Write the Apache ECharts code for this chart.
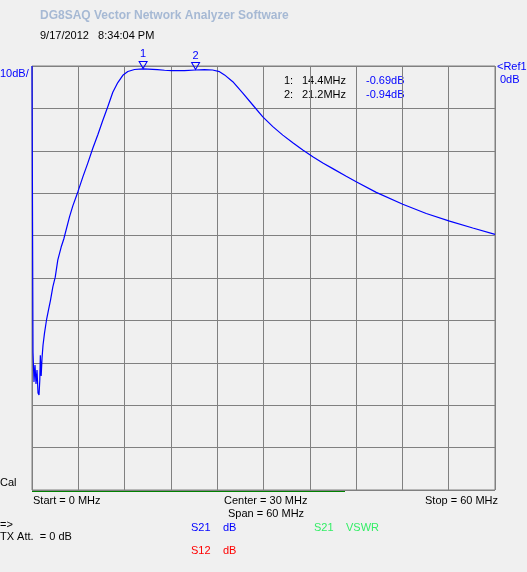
<!DOCTYPE html>
<html><head><meta charset="utf-8">
<script src="https://cdn.jsdelivr.net/npm/echarts@6/dist/echarts.min.js"></script>
<style>html,body{margin:0;padding:0;background:#f0f0f0;}#c{width:527px;height:572px;}</style>
</head><body><div id="c"></div>
<script>
// Frequency (MHz) of trace samples
var freqMHz = [0, 0.13, 0.26, 0.39, 0.52, 0.65, 0.78, 0.91, 1.01, 1.08, 1.19, 1.30, 1.43, 1.62, 1.88, 2.14, 2.40, 2.70, 3.01, 3.34, 3.78, 4.12, 4.86, 5.29, 5.94, 6.58, 7.23, 7.88, 8.53, 9.18, 9.82, 10.47, 11.12, 11.77, 12.42, 13.28, 14.4, 16.26, 17.17, 18.08, 19.76, 21.2, 22.35, 23.39, 24.30, 24.95, 26.02, 27.32, 28.61, 29.91, 31.21, 32.50, 33.80, 35.09, 36.39, 37.69, 38.98, 40.72, 42.01, 44.61, 48.05, 51.09, 54.11, 57.12, 60];
// S21 magnitude (dB)
var s21dB = [0, -67.5, -74.5, -70.5, -75.0, -71.7, -77.1, -77.6, -74.1, -68.2, -73.1, -68.9, -65.8, -63.0, -59.9, -57.5, -55.2, -52.1, -49.8, -45.8, -42.7, -40.8, -35.6, -33.0, -29.7, -26.2, -22.9, -19.4, -16.2, -12.8, -9.6, -6.2, -3.9, -2.2, -1.3, -0.83, -0.69, -0.85, -1.0, -1.1, -1.1, -0.94, -0.87, -0.94, -1.34, -2.1, -3.7, -6.4, -9.2, -12.0, -14.3, -16.3, -18.1, -19.8, -21.4, -22.9, -24.2, -26.0, -27.3, -29.8, -32.6, -34.8, -36.6, -38.2, -39.7];
// Markers
var markerNames = ['1', '2'];
var markerFreq = [14.4, 21.2];
var markerDb = [-0.69, -0.94];
// Axis settings
var freqStart = 0, freqStop = 60, freqDiv = 6;
var refDb = 0, dbPerDiv = 10, nDiv = 10;

var chart = echarts.init(document.getElementById('c'), null, {renderer:'canvas'});
var FONT = '"Liberation Sans", Arial, sans-serif';
function txt(x, y, s, color, extra) {
  var st = {text: s, fill: color || '#000', font: '11px ' + FONT, textVerticalAlign: 'middle'};
  if (extra) for (var k in extra) st[k] = extra[k];
  return {type: 'text', left: x, top: y, style: st, silent: true};
}
var series0 = freqMHz.map(function(f, i){ return [f, s21dB[i]]; });
var mkData = markerFreq.map(function(f, i){
  return {coord: [f, markerDb[i]], name: markerNames[i], value: markerNames[i]};
});
var mkTable = [];
markerFreq.forEach(function(f, i){
  var y = 81 + i * 14;
  mkTable.push(txt(284, y - 6, markerNames[i] + ':', '#000'));
  mkTable.push(txt(302, y - 6, f.toFixed(1) + 'MHz', '#000'));
  mkTable.push(txt(366, y - 6, markerDb[i].toFixed(2) + 'dB', '#0000ff'));
});

chart.setOption({
  backgroundColor: '#f0f0f0',
  animation: false,
  grid: {left: 32, right: 32, top: 66, bottom: 82, show: true, borderColor: '#808080', borderWidth: 1},
  xAxis: {type: 'value', min: freqStart, max: freqStop, interval: freqDiv,
    axisLine: {show: false}, axisTick: {show: false}, axisLabel: {show: false},
    splitLine: {show: true, lineStyle: {color: '#808080', width: 1}}},
  yAxis: {type: 'value', min: refDb - dbPerDiv * nDiv, max: refDb, interval: dbPerDiv,
    axisLine: {show: false}, axisTick: {show: false}, axisLabel: {show: false},
    splitLine: {show: true, lineStyle: {color: '#808080', width: 1}}},
  series: [{
    type: 'line', data: series0, showSymbol: false, symbol: 'none',
    lineStyle: {color: '#0000ff', width: 1.2}, clip: false,
    markPoint: {
      symbol: 'triangle', symbolRotate: 180, symbolSize: [8, 7], symbolOffset: [0, -4],
      itemStyle: {color: 'rgba(0,0,0,0)', borderColor: '#0000ff', borderWidth: 1},
      label: {show: true, position: 'top', distance: 1, color: '#0000ff', fontSize: 11, fontFamily: FONT,
        formatter: function(p){ return p.name; }},
      data: mkData
    }
  }],
  graphic: [
    txt(40, 10, 'DG8SAQ Vector Network Analyzer Software', '#a6b9d4', {font: 'bold 12px ' + FONT}),
    txt(40, 30, '9/17/2012   8:34:04 PM', '#000'),
    txt(0, 68, '10dB/', '#0000ff'),
    txt(497, 61, '<Ref1', '#0000ff'),
    txt(500, 74, '0dB', '#0000ff'),
    txt(0, 477, 'Cal', '#000'),
    {type: 'line', shape: {x1: 32, y1: 491, x2: 345, y2: 491}, style: {stroke: '#008000', lineWidth: 2}, silent: true},
    txt(33, 495, 'Start = 0 MHz', '#000'),
    txt(224, 495, 'Center = 30 MHz', '#000'),
    txt(228, 508, 'Span = 60 MHz', '#000'),
    txt(425, 495, 'Stop = 60 MHz', '#000'),
    txt(0, 519, '=>', '#000'),
    txt(0, 531, 'TX Att.  = 0 dB', '#000'),
    txt(191, 522, 'S21', '#0000ff'),
    txt(223, 522, 'dB', '#0000ff'),
    txt(314, 522, 'S21', '#33ee66'),
    txt(346, 522, 'VSWR', '#33ee66'),
    txt(191, 545, 'S12', '#ff0000'),
    txt(223, 545, 'dB', '#ff0000')
  ].concat(mkTable)
});
</script>
</body></html>
